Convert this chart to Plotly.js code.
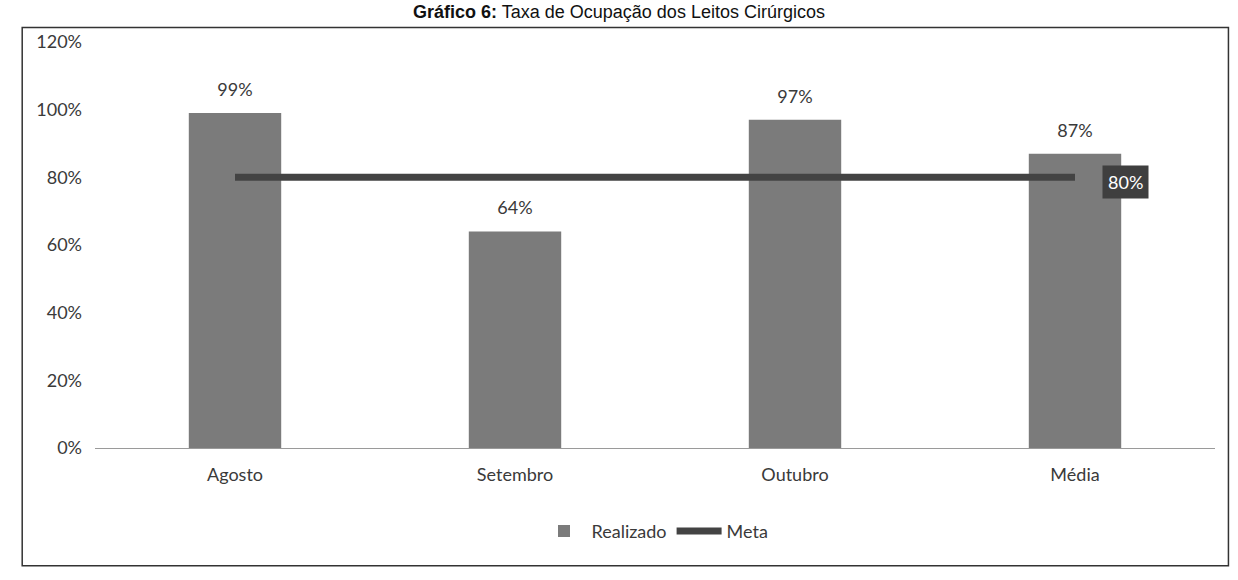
<!DOCTYPE html>
<html><head><meta charset="utf-8">
<script src="https://cdn.plot.ly/plotly-3.0.1.min.js"></script>
<style>body{margin:0;background:#fff}#c{width:1238px;height:580px}</style>
</head><body><div id="c"></div>
<script>
const categories = ["Agosto", "Setembro", "Outubro", "Média"];
const realizado = [0.99, 0.64, 0.97, 0.87];
const meta = [0.80, 0.80, 0.80, 0.80];
const tickVals = [0, 0.2, 0.4, 0.6, 0.8, 1.0, 1.2];
const tickText = ["0%", "20%", "40%", "60%", "80%", "100%", "120%"];
const labelFont = {family: "Lato, 'Open Sans', sans-serif", size: 18, color: "#3a3a3a"};

const traces = [
  {type: "bar", name: "Realizado", x: categories, y: realizado,
   marker: {color: "#7b7b7b"},
   text: realizado.map(v => Math.round(v*100) + "%"), textposition: "outside",
   textfont: labelFont, cliponaxis: false},
  {type: "scatter", mode: "lines", name: "Meta", x: categories, y: meta,
   line: {color: "#434343", width: 7}}
];

const last = categories.length - 1;
const layout = {
  width: 1238, height: 580,
  margin: {l: 95, r: 23, t: 42, b: 132},
  paper_bgcolor: "#fff", plot_bgcolor: "#fff",
  bargap: 0.67,
  showlegend: true,
  legend: {orientation: "h", x: 0.5, xanchor: "center", y: -0.205, yanchor: "middle",
           font: labelFont, traceorder: "normal", itemwidth: 45},
  title: {text: "<b>Gráfico 6:</b> Taxa de Ocupação dos Leitos Cirúrgicos",
          font: {family: "'Liberation Sans', Arial, sans-serif", size: 18, color: "#111"},
          x: 0.5, xanchor: "center", y: 0.99, yanchor: "top", pad: {t: 0, b: 0}},
  xaxis: {showgrid: false, zeroline: false, showline: false, ticks: "",
          tickfont: labelFont, ticklabelstandoff: 14},
  yaxis: {range: [0, 1.2], tickvals: tickVals, ticktext: tickText, showgrid: false,
          zeroline: true, zerolinecolor: "#9a9a9a", zerolinewidth: 1,
          showline: false, ticks: "", tickfont: labelFont, ticklabelstandoff: 12},
  shapes: [
    {type: "rect", xref: "paper", yref: "paper", x0: -0.065, x1: 1.012, y0: -0.29, y1: 1.036,
     line: {color: "#333", width: 1.5}},
  ],
  annotations: [
    {x: categories[last], y: meta[last], text: Math.round(meta[last]*100) + "%",
     showarrow: false, xshift: 50, yshift: -5, bgcolor: "#3f3f3f",
     font: {family: labelFont.family, size: 18, color: "#fff"}, borderpad: 5}
  ]
};
Plotly.newPlot("c", traces, layout, {displayModeBar: false}).then(() => {
  document.querySelectorAll(".bartext").forEach(t => {
    const tr = t.getAttribute("transform") || "";
    t.setAttribute("transform", tr + " translate(0,-10)");
  });
});
</script></body></html>
